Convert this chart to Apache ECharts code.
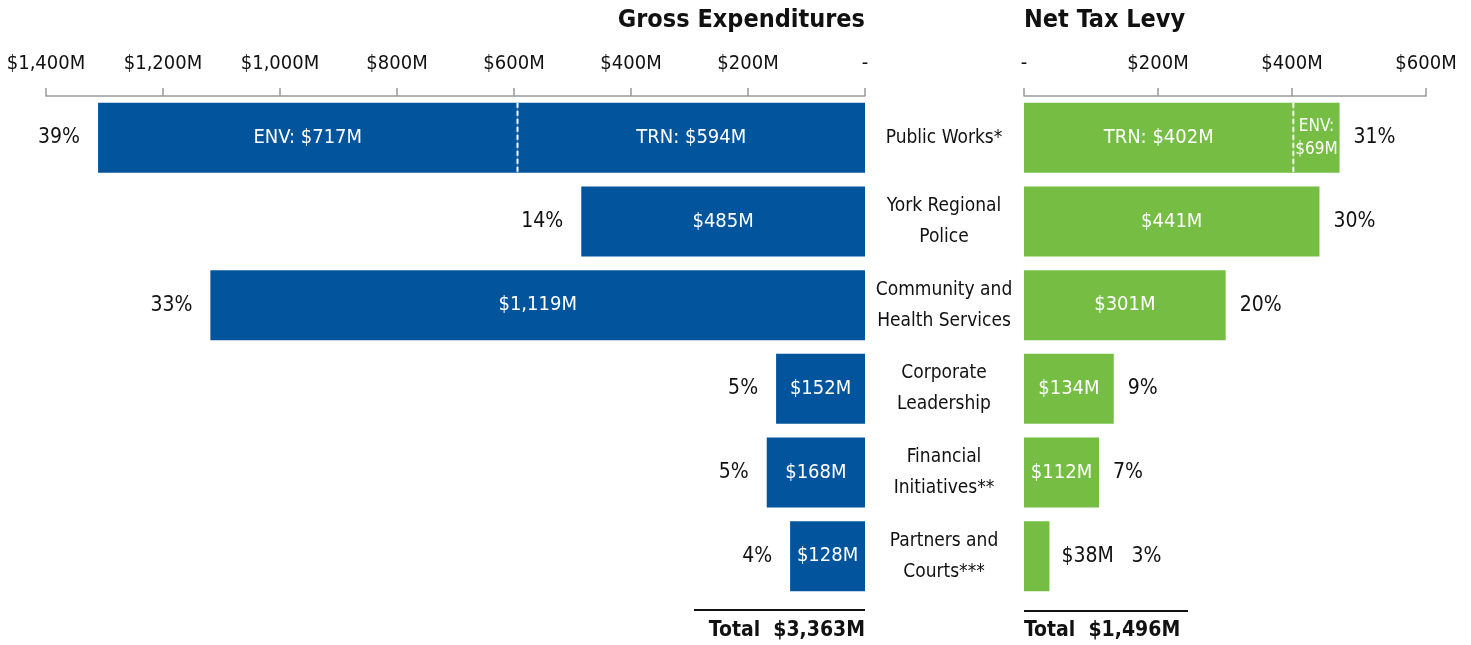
<!DOCTYPE html>
<html>
<head>
<meta charset="utf-8">
<script src="https://cdn.jsdelivr.net/npm/echarts@6/dist/echarts.min.js"></script>
<style>
  html, body { margin: 0; padding: 0; background: #fff; }
  #chart { width: 1471px; height: 645px; }
</style>
</head>
<body>
<div id="chart"></div>
<script>
// Departments, top to bottom
const categories = [
  'Public Works*',
  'York Regional\nPolice',
  'Community and\nHealth Services',
  'Corporate\nLeadership',
  'Financial\nInitiatives**',
  'Partners and\nCourts***'
];
// Gross expenditures ($M); Public Works split into Transportation + Environmental
const grossMain = [594, 485, 1119, 152, 168, 128];
const grossEnv  = [717, null, null, null, null, null];
const grossShare = [39, 14, 33, 5, 5, 4];
const grossTotal = '$3,363M';
// Net tax levy ($M)
const levyMain = [402, 441, 301, 134, 112, 38];
const levyEnv  = [69, null, null, null, null, null];
const levyShare = [31, 30, 20, 9, 7, 3];
const levyTotal = '$1,496M';
// Axis ranges / tick steps
const grossAxis = { min: 0, max: 1400, interval: 200 };
const levyAxis  = { min: 0, max: 600, interval: 200 };

const FONT = "'Liberation Sans Narrow', 'DejaVu Sans Condensed', 'Roboto', sans-serif";
const BLUE = '#02549d';
const GREEN = '#76be43';
const INK = '#111';
const BAR_W = 70;

const money = v => '$' + Number(v).toLocaleString('en-US') + 'M';
const tickFmt = v => v === 0 ? '-' : money(v);

const chart = echarts.init(document.getElementById('chart'), null, { renderer: 'canvas' });

// White dashed separator between the two Public Works segments
function divider(values, xi, yi) {
  return {
    type: 'custom',
    xAxisIndex: xi, yAxisIndex: yi,
    z: 10, silent: true,
    data: values.map((v, i) => [v, categories[i]]).filter(d => d[0] != null),
    renderItem: (params, api) => {
      const p = api.coord([api.value(0), api.value(1)]);
      return {
        type: 'line',
        shape: { x1: p[0], y1: p[1] - BAR_W / 2, x2: p[0], y2: p[1] + BAR_W / 2 },
        style: { stroke: '#fff', lineWidth: 2, lineDash: [5, 3] }
      };
    }
  };
}

const insideLabel = {
  show: true, position: 'inside', color: '#fff',
  fontFamily: FONT, fontSize: 20, lineHeight: 25
};
const outsideLabel = { fontFamily: FONT, fontSize: 21, color: INK, opacity: 1 };

const totals = (main, env) => main.map((v, i) => v + (env[i] || 0));
const grossSum = totals(grossMain, grossEnv);
const levySum = totals(levyMain, levyEnv);

const valueAxisStyle = {
  type: 'value', position: 'top',
  axisLine: { show: true, lineStyle: { color: '#999', width: 1.5 } },
  axisTick: { show: true, length: 8, lineStyle: { color: '#999', width: 1.5 } },
  splitLine: { show: false },
  axisLabel: { formatter: tickFmt, margin: 22, color: INK, fontFamily: FONT, fontSize: 20 }
};

const option = {
  animation: false,
  textStyle: { fontFamily: FONT },
  grid: [
    { left: 46, right: 606, top: 96, height: 502 },
    { left: 1024, right: 45, top: 96, height: 502 }
  ],
  xAxis: [
    Object.assign({ gridIndex: 0, inverse: true }, grossAxis, valueAxisStyle),
    Object.assign({ gridIndex: 1 }, levyAxis, valueAxisStyle)
  ],
  yAxis: [
    {
      gridIndex: 0, type: 'category', data: categories, inverse: true,
      axisLine: { show: false }, axisTick: { show: false }, axisLabel: { show: false }
    },
    {
      gridIndex: 1, type: 'category', data: categories, inverse: true,
      axisLine: { show: false }, axisTick: { show: false },
      axisLabel: {
        show: true, align: 'center', margin: 80, color: INK,
        fontFamily: FONT, fontSize: 19, lineHeight: 31
      }
    }
  ],
  series: [
    {
      name: 'Gross', type: 'bar', stack: 'gross', xAxisIndex: 0, yAxisIndex: 0,
      barWidth: BAR_W, itemStyle: { color: BLUE },
      data: grossMain,
      label: Object.assign({}, insideLabel, {
        formatter: p => (p.dataIndex === 0 ? 'TRN: ' : '') + money(p.value)
      })
    },
    {
      name: 'Gross ENV', type: 'bar', stack: 'gross', xAxisIndex: 0, yAxisIndex: 0,
      barWidth: BAR_W, itemStyle: { color: BLUE },
      data: grossEnv,
      label: Object.assign({}, insideLabel, { formatter: p => 'ENV: ' + money(p.value) })
    },
    {
      name: 'Levy', type: 'bar', stack: 'levy', xAxisIndex: 1, yAxisIndex: 1,
      barWidth: BAR_W, itemStyle: { color: GREEN },
      data: levyMain.map((v, i) => i === 5
        ? { value: v, label: Object.assign({}, outsideLabel, { position: 'right', distance: 12 }) }
        : v),
      label: Object.assign({}, insideLabel, {
        formatter: p => (p.dataIndex === 0 ? 'TRN: ' : '') + money(p.value)
      })
    },
    {
      name: 'Levy ENV', type: 'bar', stack: 'levy', xAxisIndex: 1, yAxisIndex: 1,
      barWidth: BAR_W, itemStyle: { color: GREEN },
      data: levyEnv,
      label: Object.assign({}, insideLabel, {
        fontSize: 17, lineHeight: 23, formatter: p => 'ENV:\n' + money(p.value)
      })
    },
    divider(grossMain.map((v, i) => grossEnv[i] != null ? v : null), 0, 0),
    divider(levyMain.map((v, i) => levyEnv[i] != null ? v : null), 1, 1),
    {
      type: 'scatter', xAxisIndex: 0, yAxisIndex: 0, symbolSize: 0, silent: true,
      itemStyle: { opacity: 1 },
      data: grossSum.map((v, i) => [v, categories[i], grossShare[i]]),
      label: Object.assign({ show: true, position: 'left', distance: 18,
        formatter: p => p.value[2] + '%' }, outsideLabel)
    },
    {
      type: 'scatter', xAxisIndex: 1, yAxisIndex: 1, symbolSize: 0, silent: true,
      itemStyle: { opacity: 1 },
      data: levySum.map((v, i) => i === 5
        ? { value: [v, categories[i], levyShare[i]], label: { distance: 82 } }
        : [v, categories[i], levyShare[i]]),
      label: Object.assign({ show: true, position: 'right', distance: 14,
        formatter: p => p.value[2] + '%' }, outsideLabel)
    }
  ],
  graphic: [
    {
      type: 'text', right: 1471 - 865, top: 8,
      style: { text: 'Gross Expenditures', font: 'bold 25px ' + FONT, fill: INK }
    },
    {
      type: 'text', left: 1024, top: 8,
      style: { text: 'Net Tax Levy', font: 'bold 25px ' + FONT, fill: INK }
    },
    { type: 'line', shape: { x1: 694, y1: 610, x2: 865, y2: 610 }, style: { stroke: INK, lineWidth: 2 } },
    { type: 'line', shape: { x1: 1024, y1: 611, x2: 1188, y2: 611 }, style: { stroke: INK, lineWidth: 2 } },
    {
      type: 'text', right: 1471 - 865, top: 620,
      style: { text: 'Total  ' + grossTotal, font: 'bold 21px ' + FONT, fill: INK }
    },
    {
      type: 'text', left: 1024, top: 620,
      style: { text: 'Total  ' + levyTotal, font: 'bold 21px ' + FONT, fill: INK }
    }
  ]
};

chart.setOption(option);
</script>
</body>
</html>
